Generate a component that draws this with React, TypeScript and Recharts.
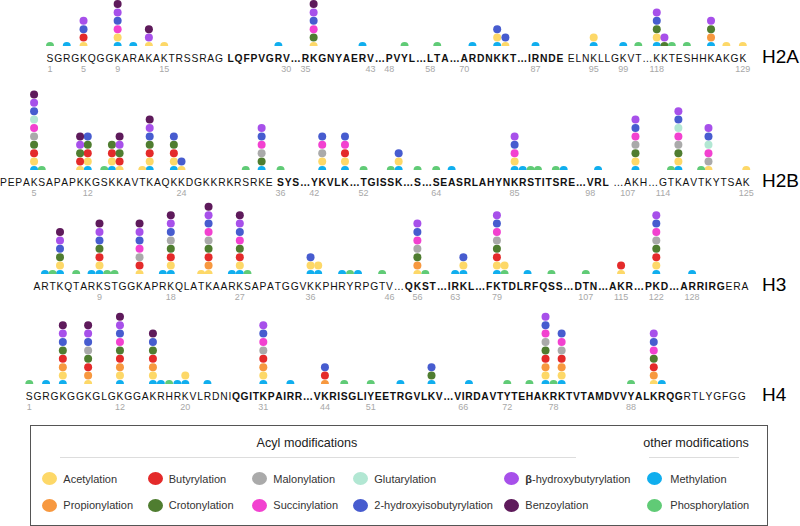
import React from "react";
import { ScatterChart, Scatter, XAxis, YAxis } from "recharts";

// modification types, in stacking order (bottom -> top)
const MOD_KEYS = ["me", "ac", "pr", "bu", "cr", "ma", "su", "gl", "hib", "bhb", "bz", "ph"];
const MOD_NAMES = [
  "Methylation",
  "Acetylation",
  "Propionylation",
  "Butyrylation",
  "Crotonylation",
  "Malonylation",
  "Succinylation",
  "Glutarylation",
  "2-hydroxyisobutyrylation",
  "β-hydroxybutyrylation",
  "Benzoylation",
  "Phosphorylation",
];
const MOD_COLORS = [
  "#10AEEE",
  "#FDD868",
  "#F7983F",
  "#E42A2A",
  "#4F7D30",
  "#AAAAAA",
  "#F241D0",
  "#B2E7D3",
  "#475CCF",
  "#A750EA",
  "#5E1A5B",
  "#60CB76",
];

const LEGEND_ROW1 = ["ac", "bu", "ma", "gl", "bhb", "me"];
const LEGEND_ROW2 = ["pr", "cr", "su", "hib", "bz", "ph"];

// [first residue number (0 = separator), text, bold]
type Seg = [number, string, boolean];
type Site = [number, string];

const H2A_SEGMENTS: Seg[] = [
  [1, "SGRGKQGGKARAKAKTRSSRAG", false],
  [0, " ", false],
  [23, "LQFPVGRV", true],
  [0, "…", true],
  [35, "RKGNYAERV", true],
  [0, "…", true],
  [48, "PVYL", true],
  [0, "…", true],
  [58, "LTA", true],
  [0, "…", true],
  [70, "ARDNKKT", true],
  [0, "…", true],
  [86, "IRNDE", true],
  [0, " ", false],
  [92, "ELNKLLGKVT", false],
  [0, "…", false],
  [118, "KKTESHHKAKGK", false],
];
const H2A_SITES: Site[] = [
  [1, "ph"], [3, "me"], [5, "ac bu hib bhb"], [9, "me ac su hib bhb bz"], [11, "me"],
  [13, "ac bhb bz"], [15, "ac"], [29, "me"], [36, "ac cr su hib bhb bz"], [42, "me"],
  [50, "ph"], [59, "ph"], [71, "me"], [74, "me ac hib"], [75, "ac hib"], [87, "me"],
  [95, "me ac"], [99, "me"], [101, "ph"], [118, "me ac cr hib bhb"], [119, "cr bhb"],
  [120, "ph"], [122, "ph"], [125, "me pr cr bhb"], [127, "ac"], [129, "ac"],
];
const H2A_TICKS = [1, 5, 9, 15, 30, 35, 43, 48, 58, 70, 87, 95, 99, 118, 129];

const H2B_SEGMENTS: Seg[] = [
  [1, "PEPAKSAPAPKKGSKKAVTKAQKKDGKKRKRSRKE", false],
  [0, " ", false],
  [36, "SYS", true],
  [0, "…", true],
  [42, "YKVLK", true],
  [0, "…", true],
  [52, "TGISSK", true],
  [0, "…", true],
  [60, "S", true],
  [0, "…", true],
  [64, "S", true],
  [76, "EASRLAHYNKRSTITSRE", true],
  [0, "…", true],
  [98, "VRL", true],
  [0, " …", false],
  [107, "AKH", false],
  [0, "…", false],
  [114, "GTKAVTKYTSAK", false],
];
const H2B_SITES: Site[] = [
  [5, "me ac bu cr ma su gl hib bhb bz"], [6, "ph"], [11, "ac bu cr bhb bz"], [12, "me ac bu cr hib"],
  [14, "ph"], [15, "me ac bu cr"], [16, "ac bu cr bhb bz"], [19, "ac"], [20, "me ac bu cr hib bhb bz"],
  [23, "me ac bu cr hib"], [24, "ac hib"], [32, "ph"], [34, "me cr ma su hib bhb"], [36, "ph"],
  [43, "me ac ma su hib"], [46, "me ac bu su hib"], [52, "ph"], [56, "ph"], [57, "me ac hib"],
  [60, "ph"], [64, "ph"], [77, "me"], [85, "me ac su hib bhb"], [86, "me"], [87, "ph"], [88, "ph"],
  [91, "ph"], [92, "me"], [99, "me"], [108, "me ac cr ma su hib bhb"], [115, "ph"],
  [116, "me ac cr ma su gl hib bhb"], [119, "ph"], [120, "ac ma su gl hib bhb"], [125, "ac"],
];
const H2B_TICKS = [5, 12, 24, 36, 42, 52, 64, 85, 98, 107, 114, 125];

const H3_SEGMENTS: Seg[] = [
  [1, "ARTKQTARKSTGGKAPRKQLATKAARKSAPATGGVKKPHRYRPGTV", false],
  [0, "…", false],
  [55, "QKST", true],
  [0, "…", true],
  [62, "IRKL", true],
  [0, "…", true],
  [78, "FKTDLRFQSS", true],
  [0, "…", true],
  [106, "DTN", true],
  [0, "…", true],
  [114, "AKR", true],
  [0, "…", true],
  [121, "PKD", true],
  [0, "…", true],
  [127, "ARRIRG", true],
  [133, "ERA", false],
];
const H3_SITES: Site[] = [
  [2, "me"], [3, "ph"], [4, "me ac cr hib bhb bz"], [6, "ph"], [8, "me"], [9, "me ac bu cr hib bhb bz"],
  [10, "ph"], [11, "ph"], [14, "ac bu ma su hib bhb bz"], [17, "me"], [18, "me ac bu cr ma hib bhb bz"],
  [22, "ac"], [23, "ac pr bu cr ma su hib bhb bz"], [26, "me"], [27, "me ac bu cr su hib bhb bz"],
  [28, "ph"], [36, "me ac hib"], [37, "me ac"], [40, "me"], [41, "ph"], [42, "me"], [45, "ph"],
  [56, "ac pr cr ma su hib bhb"], [57, "ph"], [63, "me"], [64, "me ac hib"],
  [79, "me ac bu cr ma su hib bhb"], [80, "ph ac"], [83, "me"], [86, "ph"], [107, "ph"],
  [115, "ac bu"], [122, "me ac bu cr ma su hib bhb"], [128, "me"],
];
const H3_TICKS = [9, 18, 27, 36, 46, 56, 63, 79, 107, 115, 122, 128];

const H4_SEGMENTS: Seg[] = [
  [1, "SGRGKGGKGLGKGGAKRHRKVLRDNI", false],
  [27, "QGITKPAIRR", true],
  [0, "…", true],
  [43, "VKRISGLIYEETRGVLKV", true],
  [0, "…", true],
  [65, "VIRDAVTYTEHAKRKTVTAMDVVYALKRQG", true],
  [95, "RTLYGFGG", false],
];
const H4_SITES: Site[] = [
  [1, "ph"], [3, "me"], [5, "me ac pr bu cr hib bhb bz"], [8, "ac pr bu cr ma hib bhb bz"],
  [12, "me ac pr bu cr su hib bhb bz"], [16, "me ac pr bu cr hib bz"], [17, "me"], [18, "ph"],
  [19, "me"], [20, "me ac"], [23, "me"], [31, "me ac pr bu ma su hib bhb"], [35, "me"],
  [44, "pr bu hib"], [47, "ph"], [51, "ph"], [55, "me"], [59, "me cr hib"], [67, "me"],
  [72, "ph"], [75, "ph"], [77, "me ac pr bu cr ma su hib bhb"], [78, "ph"],
  [79, "me ac pr bu ma su hib"], [88, "ph"], [91, "ac pr bu cr su hib bhb"], [92, "me"],
];
const H4_TICKS = [1, 12, 20, 31, 44, 51, 66, 72, 78, 88];

// Arial / Liberation Sans advance widths (1/1000 em)
const W_NORMAL: Record<string, number> = {
  A: 667, C: 722, D: 722, E: 667, F: 611, G: 778, H: 722, I: 278, K: 667, L: 556, M: 833,
  N: 722, P: 667, Q: 778, R: 722, S: 667, T: 611, V: 667, Y: 667, " ": 278, ".": 278, "…": 1000,
};
const W_BOLD: Record<string, number> = {
  ...W_NORMAL, A: 722, K: 722, L: 611,
};

const FONT = "'Liberation Sans', Arial, Helvetica, sans-serif";
const FS = 10.3;
const LS = 0.8;
const PITCH = 8.4;
const LEVELS = 10;
const MT = 6;
const AXIS_H = 34;
const DOT_R = 4;

interface Ch {
  ch: string;
  bold: boolean;
  res: number | null;
  x: number;
  label: string | null;
}

function layoutRow(segments: Seg[], x0: number, ticks: number[], lsBold: number): Ch[] {
  const out: Ch[] = [];
  let x = x0;
  let prev: number | null = null;
  segments.forEach(([start, text, bold]) => {
    Array.from(text).forEach((ch, k) => {
      const w = ((bold ? W_BOLD : W_NORMAL)[ch] ?? 667) * FS / 1000;
      if (prev !== null) x += prev / 2 + w / 2 + (bold ? lsBold : LS);
      prev = w;
      const res = start ? start + k : null;
      out.push({ ch, bold, res, x, label: res && ticks.includes(res) ? String(res) : null });
    });
  });
  return out;
}

function SeqTick(props: any) {
  const { x, y, payload, byX } = props;
  const c: Ch | undefined = byX.get(payload.value);
  if (!c) return null;
  return (
    <g>
      <text x={x} y={y + 15.7} textAnchor="middle" fontSize={FS} fontFamily={FONT}
        fontWeight={c.bold ? 700 : 400} fill="#111">{c.ch}</text>
      {c.label && (
        <text x={x} y={y + 26} textAnchor="middle" fontSize={9} fontFamily={FONT} fill="#a8a8a8">
          {c.label}
        </text>
      )}
    </g>
  );
}

interface RowProps {
  name: string;
  segments: Seg[];
  sites: Site[];
  ticks: number[];
  x0: number;
  base: number;
  lsBold?: number;
}

function HistoneRow({ name, segments, sites, ticks, x0, base, lsBold = LS }: RowProps) {
  const chars = layoutRow(segments, x0, ticks, lsBold);
  const resX = new Map<number, number>();
  chars.forEach((c) => { if (c.res) resX.set(c.res, c.x); });
  const byX = new Map<number, Ch>(chars.map((c) => [c.x, c]));

  const series = MOD_KEYS.map((key, i) => ({ key, color: MOD_COLORS[i], points: [] as { x: number; y: number }[] }));
  sites.forEach(([res, mods]) => {
    mods.split(" ").forEach((m, level) => {
      series[MOD_KEYS.indexOf(m)].points.push({ x: resX.get(res) as number, y: level });
    });
  });

  const plotH = LEVELS * PITCH;
  return (
    <div style={{ position: "absolute", left: 0, top: base - MT - plotH, width: 800 }}>
      <ScatterChart width={800} height={MT + plotH + AXIS_H} margin={{ top: MT, right: 0, bottom: 0, left: 0 }}>
        <XAxis
          type="number"
          dataKey="x"
          domain={[0, 800]}
          allowDataOverflow
          ticks={chars.map((c) => c.x)}
          interval={0}
          axisLine={false}
          tickLine={false}
          tickSize={0}
          tickMargin={0}
          height={AXIS_H}
          tick={(p: any) => <SeqTick {...p} byX={byX} />}
        />
        <YAxis type="number" dataKey="y" domain={[0, LEVELS]} allowDataOverflow hide />
        {series.map((s) => (
          <Scatter
            key={s.key}
            name={s.key}
            data={s.points}
            fill={s.color}
            isAnimationActive={false}
            shape={(p: any) => <circle cx={p.cx} cy={p.cy} r={DOT_R} fill={s.color} />}
          />
        ))}
      </ScatterChart>
      <div
        style={{
          position: "absolute",
          left: 762,
          top: MT + plotH + 1,
          fontSize: 19,
          lineHeight: "19px",
          fontFamily: FONT,
          color: "#000",
          whiteSpace: "nowrap",
        }}
      >
        {name}
      </div>
    </div>
  );
}

function LegendItem({ k, cx, tx, cy }: { k: string; cx: number; tx: number; cy: number }) {
  const i = MOD_KEYS.indexOf(k);
  const name = MOD_NAMES[i];
  return (
    <>
      <div
        style={{
          position: "absolute",
          left: cx - 7.5,
          top: cy - 6.5,
          width: 15,
          height: 13,
          borderRadius: "50%",
          background: MOD_COLORS[i],
        }}
      />
      <div style={{ position: "absolute", left: tx, top: cy - 7, fontSize: 11, lineHeight: "14px", color: "#333", whiteSpace: "nowrap" }}>
        {name.startsWith("β") ? (<><b>β</b>{name.slice(1)}</>) : name}
      </div>
    </>
  );
}

const LEGEND_CX = [18.3, 124, 228.3, 329.3, 480, 623.3];
const LEGEND_TX = [32.3, 137.7, 242.3, 343.3, 494.3, 639.3];

function ModLegend() {
  return (
    <div
      style={{
        position: "absolute",
        left: 30,
        top: 425,
        width: 738,
        height: 101,
        border: "1.5px solid #555",
        boxSizing: "border-box",
        fontFamily: FONT,
      }}
    >
      <div style={{ position: "absolute", left: 176, width: 200, top: 9, textAlign: "center", fontSize: 12.6, lineHeight: "16px", color: "#222" }}>
        Acyl modifications
      </div>
      <div style={{ position: "absolute", left: 29, width: 516, top: 30.5, height: 1, background: "#ddd" }} />
      <div style={{ position: "absolute", left: 565, width: 200, top: 9, textAlign: "center", fontSize: 12.6, lineHeight: "16px", color: "#222" }}>
        other modifications
      </div>
      <div style={{ position: "absolute", left: 618, width: 90, top: 30.5, height: 1, background: "#ddd" }} />
      {LEGEND_ROW1.map((k, i) => (
        <LegendItem key={k} k={k} cx={LEGEND_CX[i]} tx={LEGEND_TX[i]} cy={52.5} />
      ))}
      {LEGEND_ROW2.map((k, i) => (
        <LegendItem key={k} k={k} cx={LEGEND_CX[i]} tx={LEGEND_TX[i]} cy={79} />
      ))}
    </div>
  );
}

export default function App() {
  return (
    <div style={{ position: "absolute", left: 0, top: 0, width: 800, height: 526, background: "#fff", overflow: "hidden", fontFamily: FONT }}>
      <HistoneRow name="H2A" segments={H2A_SEGMENTS} sites={H2A_SITES} ticks={H2A_TICKS} x0={50} base={46} />
      <HistoneRow name="H2B" segments={H2B_SEGMENTS} sites={H2B_SITES} ticks={H2B_TICKS} x0={3.4} base={170} lsBold={0.72} />
      <HistoneRow name="H3" segments={H3_SEGMENTS} sites={H3_SITES} ticks={H3_TICKS} x0={37} base={274} />
      <HistoneRow name="H4" segments={H4_SEGMENTS} sites={H4_SITES} ticks={H4_TICKS} x0={29.3} base={384} lsBold={0.62} />
      <ModLegend />
    </div>
  );
}
